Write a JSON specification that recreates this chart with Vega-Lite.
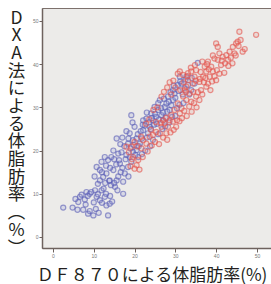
{
  "$schema": "https://vega.github.io/schema/vega-lite/v6.json",
  "width": 230,
  "height": 240,
  "autosize": {"type": "none"},
  "padding": {"left": 42, "top": 8, "right": 0, "bottom": 36},
  "background": "#ffffff",
  "config": {"view": {"fill": "#ecebe9", "stroke": "#7d716c", "strokeWidth": 1}},
  "datasets": {
    "pts": [
      {"x":2.5,"y":6.8,"g":"b"},{"x":4.8,"y":6.8,"g":"b"},{"x":6.2,"y":8.1,"g":"b"},{"x":6.6,"y":9.3,"g":"b"},{"x":7.4,"y":6.3,"g":"b"},{"x":8.2,"y":10.4,"g":"b"},{"x":8.6,"y":5.4,"g":"b"},{"x":9.9,"y":5.0,"g":"b"},{"x":9.0,"y":10.0,"g":"b"},{"x":10.7,"y":9.3,"g":"b"},{"x":11.5,"y":8.5,"g":"b"},{"x":11.9,"y":10.8,"g":"b"},{"x":12.7,"y":9.3,"g":"b"},{"x":13.1,"y":7.3,"g":"b"},{"x":13.5,"y":5.0,"g":"b"},{"x":13.9,"y":7.7,"g":"b"},{"x":11.5,"y":13.1,"g":"b"},{"x":12.3,"y":13.9,"g":"b"},{"x":13.1,"y":14.7,"g":"b"},{"x":13.9,"y":13.1,"g":"b"},{"x":14.8,"y":15.5,"g":"b"},{"x":15.2,"y":11.6,"g":"b"},{"x":15.6,"y":13.1,"g":"b"},{"x":11.5,"y":15.5,"g":"b"},{"x":10.7,"y":16.2,"g":"b"},{"x":11.9,"y":17.4,"g":"b"},{"x":13.5,"y":17.8,"g":"b"},{"x":12.7,"y":18.5,"g":"b"},{"x":14.3,"y":18.5,"g":"b"},{"x":16.0,"y":19.3,"g":"b"},{"x":15.6,"y":22.8,"g":"b"},{"x":16.4,"y":17.0,"g":"b"},{"x":17.2,"y":10.0,"g":"b"},{"x":17.6,"y":14.7,"g":"b"},{"x":18.4,"y":16.2,"g":"b"},{"x":18.8,"y":18.5,"g":"b"},{"x":19.2,"y":17.4,"g":"b"},{"x":19.6,"y":19.7,"g":"b"},{"x":18.4,"y":21.6,"g":"b"},{"x":18.8,"y":24.0,"g":"b"},{"x":19.2,"y":28.2,"g":"b"},{"x":19.6,"y":22.4,"g":"b"},{"x":20.5,"y":22.8,"g":"b"},{"x":20.5,"y":20.1,"g":"b"},{"x":20.9,"y":18.5,"g":"b"},{"x":21.3,"y":21.6,"g":"b"},{"x":22.1,"y":24.7,"g":"b"},{"x":22.1,"y":27.0,"g":"b"},{"x":22.9,"y":27.4,"g":"b"},{"x":23.3,"y":24.0,"g":"b"},{"x":23.7,"y":25.5,"g":"b"},{"x":24.1,"y":28.6,"g":"b"},{"x":24.5,"y":27.0,"g":"b"},{"x":24.9,"y":30.1,"g":"b"},{"x":25.3,"y":27.8,"g":"b"},{"x":25.8,"y":29.4,"g":"b"},{"x":26.2,"y":31.7,"g":"b"},{"x":26.6,"y":28.2,"g":"b"},{"x":27.0,"y":27.0,"g":"b"},{"x":27.4,"y":30.1,"g":"b"},{"x":27.8,"y":30.9,"g":"b"},{"x":28.2,"y":32.5,"g":"b"},{"x":28.6,"y":29.4,"g":"b"},{"x":29.4,"y":31.7,"g":"b"},{"x":29.8,"y":33.2,"g":"b"},{"x":30.6,"y":35.2,"g":"b"},{"x":31.5,"y":35.5,"g":"b"},{"x":32.3,"y":34.4,"g":"b"},{"x":33.1,"y":35.2,"g":"b"},{"x":33.9,"y":34.0,"g":"b"},{"x":34.7,"y":35.5,"g":"b"},{"x":35.5,"y":40.3,"g":"b"},{"x":32.7,"y":37.1,"g":"b"},{"x":31.1,"y":37.1,"g":"b"},{"x":29.4,"y":34.0,"g":"b"},
      {"x":7.0,"y":9.8,"g":"b"},{"x":7.8,"y":8.7,"g":"b"},{"x":8.5,"y":9.5,"g":"b"},{"x":9.4,"y":10.4,"g":"b"},{"x":10.0,"y":8.0,"g":"b"},{"x":10.3,"y":10.8,"g":"b"},{"x":11.0,"y":9.9,"g":"b"},{"x":12.0,"y":7.9,"g":"b"},{"x":12.4,"y":11.2,"g":"b"},{"x":13.0,"y":10.0,"g":"b"},{"x":14.0,"y":9.5,"g":"b"},{"x":14.5,"y":8.2,"g":"b"},{"x":9.0,"y":6.0,"g":"b"},{"x":10.5,"y":6.5,"g":"b"},{"x":11.2,"y":5.6,"g":"b"},{"x":6.0,"y":6.3,"g":"b"},{"x":8.0,"y":7.5,"g":"b"},{"x":5.5,"y":8.8,"g":"b"},{"x":14.2,"y":12.0,"g":"b"},{"x":15.0,"y":12.5,"g":"b"},{"x":16.0,"y":14.0,"g":"b"},{"x":16.6,"y":15.0,"g":"b"},{"x":14.0,"y":16.0,"g":"b"},{"x":13.0,"y":16.5,"g":"b"},{"x":12.0,"y":15.0,"g":"b"},{"x":10.2,"y":14.0,"g":"b"},{"x":11.0,"y":12.3,"g":"b"},{"x":15.5,"y":16.8,"g":"b"},{"x":17.0,"y":16.0,"g":"b"},{"x":17.8,"y":18.0,"g":"b"},{"x":16.8,"y":19.6,"g":"b"},{"x":17.5,"y":21.0,"g":"b"},{"x":18.0,"y":19.0,"g":"b"},{"x":19.0,"y":20.5,"g":"b"},{"x":19.8,"y":21.3,"g":"b"},{"x":20.2,"y":19.0,"g":"b"},{"x":20.8,"y":23.8,"g":"b"},{"x":21.5,"y":24.5,"g":"b"},{"x":21.8,"y":22.8,"g":"b"},{"x":22.5,"y":25.8,"g":"b"},{"x":23.0,"y":23.0,"g":"b"},{"x":23.5,"y":26.5,"g":"b"},{"x":24.0,"y":25.0,"g":"b"},{"x":24.2,"y":27.5,"g":"b"},{"x":24.8,"y":26.0,"g":"b"},{"x":25.0,"y":28.5,"g":"b"},{"x":25.5,"y":26.2,"g":"b"},{"x":25.8,"y":31.0,"g":"b"},{"x":26.0,"y":27.2,"g":"b"},{"x":26.5,"y":29.8,"g":"b"},{"x":27.0,"y":28.8,"g":"b"},{"x":27.2,"y":32.0,"g":"b"},{"x":27.6,"y":27.6,"g":"b"},{"x":28.0,"y":29.0,"g":"b"},{"x":28.4,"y":31.3,"g":"b"},{"x":28.8,"y":33.5,"g":"b"},{"x":29.0,"y":30.5,"g":"b"},{"x":29.2,"y":27.8,"g":"b"},{"x":29.6,"y":35.0,"g":"b"},{"x":30.0,"y":32.2,"g":"b"},{"x":30.4,"y":29.8,"g":"b"},{"x":30.8,"y":33.8,"g":"b"},{"x":31.2,"y":36.0,"g":"b"},{"x":31.8,"y":33.0,"g":"b"},{"x":32.0,"y":31.0,"g":"b"},{"x":32.5,"y":36.5,"g":"b"},{"x":33.4,"y":33.0,"g":"b"},{"x":34.0,"y":36.8,"g":"b"},{"x":23.0,"y":28.8,"g":"b"},{"x":22.0,"y":26.0,"g":"b"},{"x":21.0,"y":21.0,"g":"b"},{"x":20.0,"y":25.5,"g":"b"},{"x":19.5,"y":26.5,"g":"b"},{"x":18.5,"y":22.8,"g":"b"},{"x":18.0,"y":24.5,"g":"b"},{"x":17.0,"y":23.0,"g":"b"},{"x":16.5,"y":21.5,"g":"b"},{"x":26.8,"y":25.0,"g":"b"},{"x":25.8,"y":23.8,"g":"b"},{"x":24.5,"y":22.5,"g":"b"},{"x":23.8,"y":21.0,"g":"b"},{"x":22.6,"y":20.0,"g":"b"},{"x":21.8,"y":19.2,"g":"b"},{"x":27.5,"y":25.6,"g":"b"},{"x":28.5,"y":26.5,"g":"b"},{"x":30.0,"y":28.0,"g":"b"},{"x":31.0,"y":30.6,"g":"b"},{"x":16.2,"y":17.8,"g":"b"},{"x":15.0,"y":18.0,"g":"b"},{"x":14.8,"y":20.0,"g":"b"},{"x":13.8,"y":13.0,"g":"b"},{"x":12.8,"y":12.5,"g":"b"},{"x":15.8,"y":10.8,"g":"b"},{"x":18.5,"y":14.0,"g":"b"},{"x":17.2,"y":12.8,"g":"b"},
      {"x":18.0,"y":20.9,"g":"r"},{"x":19.2,"y":20.9,"g":"r"},{"x":19.6,"y":18.5,"g":"r"},{"x":20.0,"y":22.0,"g":"r"},{"x":20.5,"y":16.6,"g":"r"},{"x":20.9,"y":17.8,"g":"r"},{"x":21.7,"y":20.5,"g":"r"},{"x":22.1,"y":22.4,"g":"r"},{"x":22.9,"y":21.6,"g":"r"},{"x":23.7,"y":23.2,"g":"r"},{"x":24.5,"y":23.6,"g":"r"},{"x":25.3,"y":24.3,"g":"r"},{"x":26.2,"y":24.0,"g":"r"},{"x":26.6,"y":25.5,"g":"r"},{"x":27.0,"y":27.0,"g":"r"},{"x":27.4,"y":26.3,"g":"r"},{"x":27.8,"y":24.0,"g":"r"},{"x":28.2,"y":25.5,"g":"r"},{"x":28.6,"y":27.0,"g":"r"},{"x":29.0,"y":28.2,"g":"r"},{"x":29.4,"y":26.7,"g":"r"},{"x":29.8,"y":29.4,"g":"r"},{"x":30.2,"y":25.5,"g":"r"},{"x":30.6,"y":30.9,"g":"r"},{"x":31.1,"y":28.6,"g":"r"},{"x":31.5,"y":29.8,"g":"r"},{"x":31.9,"y":32.5,"g":"r"},{"x":32.3,"y":34.0,"g":"r"},{"x":32.7,"y":31.7,"g":"r"},{"x":33.1,"y":36.3,"g":"r"},{"x":33.5,"y":33.2,"g":"r"},{"x":33.9,"y":31.3,"g":"r"},{"x":34.3,"y":35.5,"g":"r"},{"x":34.7,"y":37.1,"g":"r"},{"x":35.1,"y":38.6,"g":"r"},{"x":35.9,"y":35.9,"g":"r"},{"x":36.3,"y":34.0,"g":"r"},{"x":36.8,"y":37.1,"g":"r"},{"x":37.2,"y":39.4,"g":"r"},{"x":37.6,"y":38.3,"g":"r"},{"x":38.0,"y":40.6,"g":"r"},{"x":38.4,"y":37.1,"g":"r"},{"x":38.8,"y":39.4,"g":"r"},{"x":39.2,"y":38.3,"g":"r"},{"x":39.6,"y":41.3,"g":"r"},{"x":40.0,"y":36.3,"g":"r"},{"x":40.4,"y":41.0,"g":"r"},{"x":40.8,"y":42.5,"g":"r"},{"x":41.2,"y":39.8,"g":"r"},{"x":41.6,"y":41.7,"g":"r"},{"x":42.5,"y":42.1,"g":"r"},{"x":42.9,"y":41.0,"g":"r"},{"x":43.3,"y":42.9,"g":"r"},{"x":44.1,"y":44.0,"g":"r"},{"x":44.5,"y":42.5,"g":"r"},{"x":44.9,"y":44.8,"g":"r"},{"x":45.3,"y":45.2,"g":"r"},{"x":45.7,"y":47.5,"g":"r"},{"x":46.5,"y":42.9,"g":"r"},{"x":49.8,"y":46.8,"g":"r"},{"x":40.0,"y":44.8,"g":"r"},{"x":40.4,"y":44.0,"g":"r"},{"x":31.1,"y":38.3,"g":"r"},{"x":31.9,"y":37.5,"g":"r"},{"x":33.1,"y":37.9,"g":"r"},{"x":33.9,"y":38.3,"g":"r"},{"x":32.7,"y":34.8,"g":"r"},{"x":35.1,"y":32.5,"g":"r"},{"x":35.9,"y":31.7,"g":"r"},{"x":37.6,"y":34.8,"g":"r"},{"x":38.0,"y":35.5,"g":"r"},
      {"x":22.0,"y":18.5,"g":"r"},{"x":23.2,"y":19.8,"g":"r"},{"x":24.2,"y":21.2,"g":"r"},{"x":25.0,"y":22.0,"g":"r"},{"x":26.0,"y":21.5,"g":"r"},{"x":27.0,"y":23.0,"g":"r"},{"x":28.0,"y":22.5,"g":"r"},{"x":28.8,"y":24.2,"g":"r"},{"x":29.6,"y":24.8,"g":"r"},{"x":30.4,"y":27.0,"g":"r"},{"x":31.0,"y":26.8,"g":"r"},{"x":31.6,"y":27.5,"g":"r"},{"x":32.2,"y":29.2,"g":"r"},{"x":32.8,"y":28.0,"g":"r"},{"x":33.4,"y":30.2,"g":"r"},{"x":34.0,"y":29.0,"g":"r"},{"x":34.6,"y":31.0,"g":"r"},{"x":35.2,"y":30.0,"g":"r"},{"x":35.5,"y":33.5,"g":"r"},{"x":36.0,"y":36.6,"g":"r"},{"x":36.6,"y":33.0,"g":"r"},{"x":37.0,"y":35.8,"g":"r"},{"x":37.4,"y":36.8,"g":"r"},{"x":38.2,"y":38.8,"g":"r"},{"x":38.6,"y":34.0,"g":"r"},{"x":39.0,"y":36.0,"g":"r"},{"x":39.6,"y":37.2,"g":"r"},{"x":40.2,"y":38.6,"g":"r"},{"x":40.8,"y":37.8,"g":"r"},{"x":41.4,"y":40.8,"g":"r"},{"x":42.0,"y":38.0,"g":"r"},{"x":42.2,"y":40.2,"g":"r"},{"x":43.0,"y":39.6,"g":"r"},{"x":43.6,"y":41.5,"g":"r"},{"x":44.0,"y":40.2,"g":"r"},{"x":44.8,"y":42.0,"g":"r"},{"x":45.5,"y":44.2,"g":"r"},{"x":46.0,"y":45.6,"g":"r"},{"x":47.0,"y":43.5,"g":"r"},{"x":30.0,"y":34.6,"g":"r"},{"x":31.2,"y":34.0,"g":"r"},{"x":32.0,"y":35.8,"g":"r"},{"x":33.0,"y":37.2,"g":"r"},{"x":34.4,"y":33.6,"g":"r"},{"x":35.0,"y":36.2,"g":"r"},{"x":36.2,"y":38.2,"g":"r"},{"x":37.8,"y":40.0,"g":"r"},{"x":39.2,"y":42.0,"g":"r"},{"x":30.6,"y":37.8,"g":"r"},{"x":29.5,"y":36.2,"g":"r"},{"x":28.6,"y":35.8,"g":"r"},{"x":28.0,"y":34.6,"g":"r"},{"x":27.2,"y":33.6,"g":"r"},{"x":26.6,"y":32.5,"g":"r"},{"x":29.0,"y":33.0,"g":"r"},{"x":25.6,"y":30.0,"g":"r"},{"x":24.6,"y":29.4,"g":"r"},{"x":23.6,"y":27.2,"g":"r"},{"x":22.8,"y":26.2,"g":"r"},{"x":21.6,"y":23.2,"g":"r"},{"x":20.6,"y":21.0,"g":"r"},{"x":19.4,"y":18.0,"g":"r"},{"x":20.0,"y":15.8,"g":"r"},{"x":21.2,"y":15.6,"g":"r"},{"x":19.0,"y":16.4,"g":"r"},{"x":18.6,"y":19.6,"g":"r"},{"x":26.4,"y":26.4,"g":"r"},{"x":27.8,"y":27.6,"g":"r"},{"x":33.8,"y":39.2,"g":"r"},{"x":34.8,"y":39.8,"g":"r"},{"x":36.6,"y":40.6,"g":"r"},{"x":32.6,"y":33.6,"g":"r"},{"x":24.0,"y":24.8,"g":"r"},{"x":25.2,"y":26.6,"g":"r"}
    ]
  },
  "data": {"name": "pts"},
  "mark": {"type": "point", "filled": false, "size": 26, "strokeWidth": 1.2, "strokeOpacity": 0.6, "fillOpacity": 0.2},
  "encoding": {
    "x": {
      "field": "x", "type": "quantitative",
      "scale": {"domain": [-2.7, 53.7], "nice": false, "zero": false},
      "axis": {
        "title": "ＤＦ８７０による体脂肪率(%)",
        "titleFont": "Noto Sans CJK JP", "titleFontSize": 17, "titleFontWeight": "normal", "titleColor": "#231f20",
        "titleX": 109.5, "titleY": 32, "titleAlign": "center", "titleBaseline": "alphabetic",
        "values": [0, 10, 20, 30, 40, 50],
        "labelFontSize": 5, "labelColor": "#777", "labelPadding": 1,
        "tickColor": "#6e625e", "tickSize": 4, "domainColor": "#6e625e", "domainWidth": 1.5, "grid": false
      }
    },
    "y": {
      "field": "y", "type": "quantitative",
      "scale": {"domain": [-2.55, 53.0], "nice": false, "zero": false},
      "axis": {
        "title": ["D","X","A","法","に","よ","る","体","脂","肪","率","︵","%","︶"],
        "titleFont": "Noto Sans CJK JP", "titleFontSize": 17.5, "titleFontWeight": "normal", "titleColor": "#231f20",
        "titleAngle": 0, "titleLineHeight": 17.7, "titleX": -26, "titleY": 1, "titleAlign": "center", "titleBaseline": "top",
        "values": [0, 10, 20, 30, 40, 50],
        "labelFontSize": 5, "labelColor": "#777", "labelPadding": 1,
        "tickColor": "#6e625e", "tickSize": 3, "domainColor": "#6e625e", "domainWidth": 1.5, "grid": false
      }
    },
    "stroke": {"field": "g", "type": "nominal", "scale": {"domain": ["b", "r"], "range": ["#5a5db5", "#e2544c"]}, "legend": null},
    "fill": {"field": "g", "type": "nominal", "scale": {"domain": ["b", "r"], "range": ["#8d8fd6", "#ee8a84"]}, "legend": null}
  }
}
